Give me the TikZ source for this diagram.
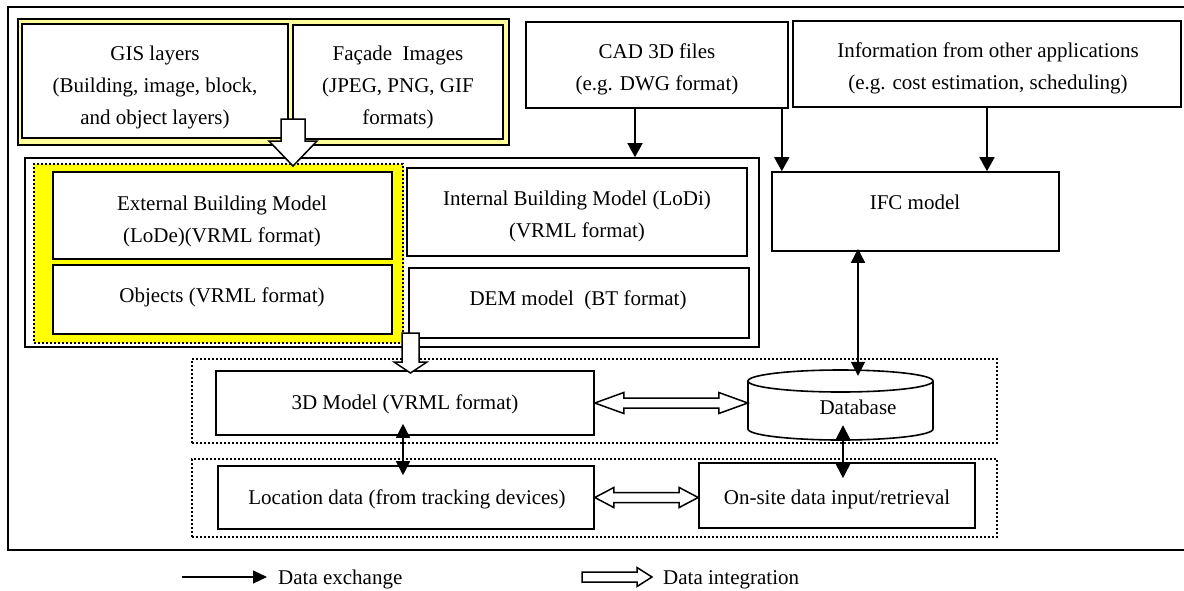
\documentclass[tikz,border=0pt]{standalone}
\usepackage{fontspec}
\setmainfont{Liberation Serif}
\usetikzlibrary{arrows.meta,fit,calc}
\definecolor{lightyel}{HTML}{FFFF99}
\definecolor{brightyel}{HTML}{FFFF00}
\newcommand{\hdbl}[5]{%
 \draw[hol] let \p1=(#1), \p2=(#2) in
 (\x1,\y1) -- (\x1+#5,\y1+#4) -- (\x1+#5,\y1+#3) -- (\x2-#5,\y1+#3) -- (\x2-#5,\y1+#4) -- (\x2,\y1)
 -- (\x2-#5,\y1-#4) -- (\x2-#5,\y1-#3) -- (\x1+#5,\y1-#3) -- (\x1+#5,\y1-#4) -- cycle;}
\newcommand{\hsgl}[5]{%
 \draw[hol] let \p1=(#1), \p2=(#2) in
 (\x1,\y1+#3) -- (\x2-#5,\y1+#3) -- (\x2-#5,\y1+#4) -- (\x2,\y1) -- (\x2-#5,\y1-#4) -- (\x2-#5,\y1-#3) -- (\x1,\y1-#3) -- cycle;}
\newcommand{\vdown}[5]{%
 \draw[hol] let \p1=(#1), \p2=(#2) in
 (\x1-#3,\y1) -- (\x1-#3,\y2+#5) -- (\x1-#4,\y2+#5) -- (\x1,\y2) -- (\x1+#4,\y2+#5) -- (\x1+#3,\y2+#5) -- (\x1+#3,\y1) -- cycle;}
\begin{document}
\begin{tikzpicture}[x=1pt,y=-1pt,
 box/.style={draw,line width=1.6pt,fill=white,inner sep=0pt},
 txt/.style={font=\fontsize{21}{32}\selectfont,align=center,inner sep=0pt,yshift=-2.5pt},
 dex/.style={line width=1.6pt,-{Triangle[length=14pt,width=15pt]}},
 dex2/.style={line width=1.6pt,{Triangle[length=14pt,width=14pt]}-{Triangle[length=14pt,width=14pt]}},
 hol/.style={draw,line width=1.5pt,fill=white,line join=miter},
 dots/.style={draw,line width=1.6pt,dash pattern=on 1.6pt off 2.4pt}]
\useasboundingbox (0,0) rectangle (1184,590);
\clip (0,0) rectangle (1184,590);
\draw[line width=1.6pt] (8,7) rectangle (1192,550);

% GIS / Facade group
\node[box,fill=lightyel,fit={(18,19)(509,145)}] (grp) {};
\node[box,fit={(22,24)(288,138)}] (gis) {};
\node[box,fit={(293,25)(503,139)}] (fac) {};
\node[txt] at (155,85) {GIS layers\\(Building, image, block,\\and object layers)};
\node[txt] at (398,85) {Façade~~Images\\(JPEG, PNG, GIF\\formats)};

% CAD and Info
\node[box,fit={(526,22)(788,108)}] (cad) {};
\node[txt] at (657,66.5) {CAD 3D files\\(e.g. DWG format)};
\node[box,line width=2.4pt,fit={(793,21)(1181,107)}] (info) {};
\node[txt] at (988,66) {Information from other applications\\(e.g. cost estimation, scheduling)};

% container
\node[box,fit={(25,158)(759,347)}] (cont) {};
\node[dots,fill=brightyel,inner sep=0pt,fit={(34,164)(403,343)}] (yel) {};
\node[box,fit={(53,172)(392,259)}] (ext) {};
\node[box,fit={(53,265)(392,334)}] (obj) {};
\node[box,fit={(407,168)(747,256)}] (int) {};
\node[box,fit={(409,268)(749,338)}] (dem) {};
\node[txt] at (222,219) {External Building Model\\(LoDe)(VRML format)};
\node[txt] at (222,295) {Objects (VRML format)};
\node[txt] at (577,214) {Internal Building Model (LoDi)\\(VRML format)};
\node[txt] at (578,298) {DEM model~~(BT format)};

% IFC
\node[box,fit={(772,172)(1059,251)}] (ifc) {};
\node[txt] at (915,200) {IFC model};

% dotted groups
\node[dots,inner sep=0pt,fit={(192,359)(997,443)}] (g1) {};
\node[dots,inner sep=0pt,fit={(192,459)(997,537)}] (g2) {};
\node[box,fit={(216,371)(594,435)}] (m3d) {};
\node[box,fit={(218,466)(594,529)}] (loc) {};
\node[box,fit={(699,463)(975,528)}] (onsite) {};
\node[inner sep=0pt,fit={(748,370)(933,440)}] (db) {};
\draw[line width=1.6pt,fill=white] (748,381) -- (748,429)
  arc[start angle=180,end angle=360,x radius=92.5pt,y radius=11pt] -- (933,381)
  arc[start angle=0,end angle=180,x radius=92.5pt,y radius=11pt] -- cycle;
\draw[line width=1.6pt] (748,381) arc[start angle=180,end angle=360,x radius=92.5pt,y radius=11pt];
\node[txt] at (405,402) {3D Model (VRML format)};
\node[txt] at (407,497) {Location data (from tracking devices)};
\node[txt] at (858,405) {Database};
\node[txt] at (837,497) {On-site data input/retrieval};

% data exchange arrows
\draw[dex] ([xshift=-22pt]cad.south) -- ([xshift=-22pt]cad.south |- cont.north);
\draw[dex] ([xshift=-7pt]cad.south east) -- ([xshift=-7pt]cad.south east |- ifc.north);
\draw[dex] (info.south) -- (info.south |- ifc.north);
\draw[dex2] ([shift={(-57.5,-3)}]ifc.south) -- ([shift={(17.5,6)}]db.north);
\draw[dex2] ([shift={(-2,-12)}]m3d.south) -- ([shift={(-3,10)}]loc.north);
\draw[dex2] ([shift={(2.5,-15)}]db.south) -- ([shift={(6,16)}]onsite.north);

% data integration arrows
\coordinate (bigtop) at (293,119);
\coordinate (bigtip) at (293,166);
\vdown{bigtop}{bigtip}{12pt}{24pt}{25pt}
\coordinate (smtop) at (410.5,333);
\coordinate (smtip) at (410.5,373);
\vdown{smtop}{smtip}{8.5pt}{16.5pt}{11pt}
\hdbl{m3d.east}{db.west |- m3d.east}{5pt}{10.5pt}{29pt}
\hdbl{loc.east}{onsite.west |- loc.east}{5pt}{10pt}{19pt}

% legend
\coordinate (la) at (182,577);
\coordinate (lb) at (267,577);
\draw[line width=1.2pt,-{Triangle[length=14pt,width=13pt]}] (la) -- (lb);
\node[txt,anchor=west] (lt1) at (278,577) {Data exchange};
\coordinate (lc) at (582,577);
\coordinate (ld) at (652,577);
\hsgl{lc}{ld}{5pt}{9.5pt}{15pt}
\node[txt,anchor=west] (lt2) at (663,577) {Data integration};
\end{tikzpicture}
\end{document}
